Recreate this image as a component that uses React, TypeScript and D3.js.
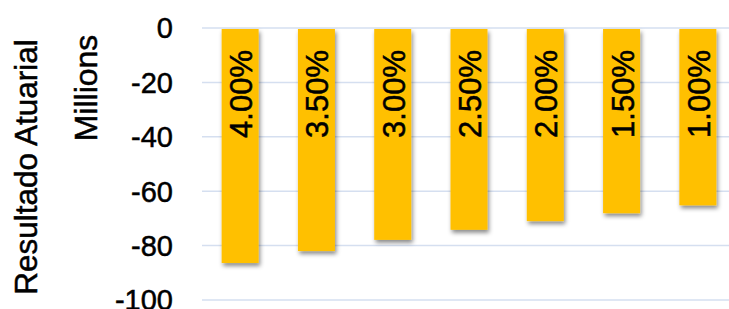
import * as d3 from 'd3';
import {useEffect, useRef} from "react";
import * as React from "react";

const categories = ["4.00%", "3.50%", "3.00%", "2.50%", "2.00%", "1.50%", "1.00%"];
const values = [-86.4, -82.0, -77.9, -74.2, -71.0, -68.1, -65.2];
const yTicks = [0, -20, -40, -60, -80, -100];

const W = 729;
const H = 309;
const FONT = "'Liberation Sans', Arial, sans-serif";

export const ResultadoChart: React.FC = () => {
    const svgRef = useRef<SVGSVGElement | null>(null);

    useEffect(() => {
        const margin = { top: 28, left: 202 };
        const plotW = 534;
        const plotH = 272;

        const svg = d3.select(svgRef.current)
            .attr("width", W)
            .attr("height", H)
            .html("");

        const defs = svg.append("defs");
        defs.append("filter")
            .attr("id", "shadow")
            .attr("x", "-30%").attr("y", "-30%")
            .attr("width", "160%").attr("height", "160%")
            .append("feDropShadow")
            .attr("dx", 1.5).attr("dy", 3)
            .attr("stdDeviation", 2)
            .attr("flood-color", "#000")
            .attr("flood-opacity", 0.45);

        const g = svg.append("g")
            .attr("transform", `translate(${margin.left},${margin.top})`);

        const x = d3.scaleBand()
            .domain(categories)
            .range([0, plotW])
            .paddingInner(0.515)
            .paddingOuter(0.2575);

        const y = d3.scaleLinear()
            .domain([0, -100])
            .range([0, plotH]);

        // gridlines
        g.selectAll(".grid")
            .data(yTicks)
            .enter()
            .append("line")
            .attr("x1", 0)
            .attr("x2", plotW)
            .attr("y1", d => y(d))
            .attr("y2", d => y(d))
            .attr("stroke", "#d5dff0")
            .attr("stroke-width", 1.5);

        // tick labels
        g.selectAll(".tick-label")
            .data(yTicks)
            .enter()
            .append("text")
            .attr("x", -29)
            .attr("y", d => y(d))
            .attr("dy", "0.36em")
            .attr("text-anchor", "end")
            .style("font-family", FONT)
            .style("font-size", "29px")
            .attr("fill", "#000")
            .attr("stroke", "#000")
            .attr("stroke-width", 0.5)
            .text(d => d === 0 ? "0" : `-${Math.abs(d)}`);

        // bars
        g.selectAll(".bar")
            .data(values)
            .enter()
            .append("rect")
            .attr("x", (_, i) => x(categories[i])!)
            .attr("y", y(0) + 1)
            .attr("width", x.bandwidth())
            .attr("height", d => y(d) - y(0) - 1)
            .attr("fill", "#FFC000")
            .attr("filter", "url(#shadow)");

        // labels inside bars
        g.selectAll(".bar-label")
            .data(categories)
            .enter()
            .append("text")
            .attr("transform", d => `translate(${x(d)! + x.bandwidth() / 2 + 12},${y(0) + 22}) rotate(-90)`)
            .attr("text-anchor", "end")
            .style("font-family", FONT)
            .style("font-size", "31px")
            .attr("fill", "#000")
            .attr("stroke", "#000")
            .attr("stroke-width", 0.5)
            .text(d => d);

        // axis titles
        svg.append("text")
            .attr("transform", `translate(37,167) rotate(-90)`)
            .attr("text-anchor", "middle")
            .style("font-family", FONT)
            .style("font-size", "31.5px")
            .attr("stroke", "#000")
            .attr("stroke-width", 0.5)
            .text("Resultado Atuarial");

        svg.append("text")
            .attr("transform", `translate(97,88) rotate(-90)`)
            .attr("text-anchor", "middle")
            .style("font-family", FONT)
            .style("font-size", "32px")
            .attr("stroke", "#000")
            .attr("stroke-width", 0.5)
            .text("Millions");
    }, []);

    return <svg ref={svgRef} style={{ position: "absolute", left: 0, top: 0, background: "#fff" }}></svg>;
}

export default function App() {
    return <ResultadoChart />;
}
